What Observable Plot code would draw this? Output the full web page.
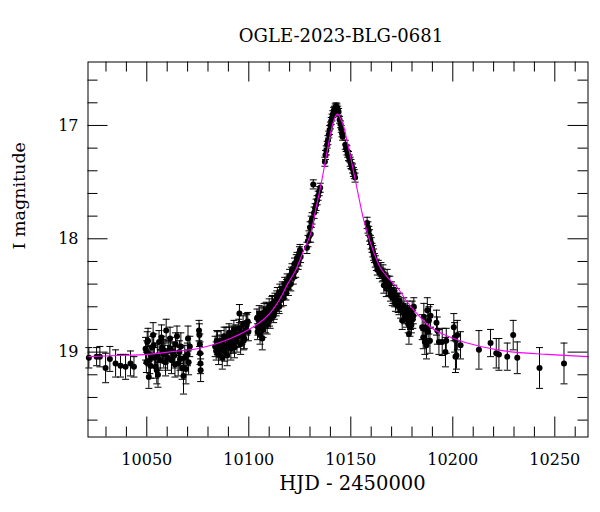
<!DOCTYPE html>
<html><head><meta charset="utf-8">
<script src="https://cdn.jsdelivr.net/npm/d3@7"></script>
<script src="https://cdn.jsdelivr.net/npm/@observablehq/plot@0.6"></script>
<style>body{margin:0;background:#fff} #chart svg{display:block}</style>
</head><body><div id="chart"></div>
<script>
const title = "OGLE-2023-BLG-0681";
const xLabel = "HJD - 2450000";
const yLabel = "I magnitude";
const xMajor = [10050, 10100, 10150, 10200, 10250];
const xMinor = [10030,10040,10060,10070,10080,10090,10110,10120,10130,10140,10160,10170,10180,10190,10210,10220,10230,10240,10260];
const yMajor = [17, 18, 19];
const yMinor = [16.6,16.8,17.2,17.4,17.6,17.8,18.2,18.4,18.6,18.8,19.2,19.4,19.6];

// Observations (HJD-2450000, I mag, error)
const hjd = [
 10021.6,10025.4,10027.0,10029.8,10031.9,10034.7,10037.1,10039.6,10042.0,10043.7,
 10049.4,10049.8,10050.2,10050.6,10051.0,10051.5,10052.0,10052.6,10053.1,10053.7,10054.3,10054.9,10055.5,10056.0,10056.6,10057.2,10057.8,10058.3,10058.9,10059.5,10060.2,10060.8,10061.4,10062.1,10062.8,10063.5,10064.1,10064.8,10065.4,10066.0,10066.7,10067.3,10068.0,10068.6,10069.2,10069.9,10070.5,10071.1,
 10075.6,10075.8,10076.0,10076.1,10076.3,10076.4,
 10083.5,10084.0,10084.6,10085.2,10085.8,10086.4,10087.0,10087.6,10088.2,10088.8,10089.4,10090.0,10090.6,10091.2,10091.8,10092.4,10093.0,10093.6,10094.2,10094.8,10095.4,10096.0,10096.6,10097.2,10097.8,10098.4,10099.0,10099.5,
 10104.0,10104.3,10104.7,10105.1,10105.5,10106.0,10106.5,10106.6,10107.0,10107.5,10108.0,10108.5,10109.0,10109.5,10110.0,10110.5,10111.0,10111.6,10112.2,10112.8,10113.4,10114.0,10114.6,10115.2,10115.8,10116.4,10117.0,10117.6,10118.2,10118.8,10119.4,10120.0,10120.6,10121.2,10121.8,10122.4,10123.0,10123.6,10124.2,10124.8,10125.4,
 10128.5,10129.0,10129.5,10130.0,10130.3,10130.6,10131.0,10131.6,10132.0,10132.5,10133.0,10133.5,10134.0,10134.5,10135.0,
 10137.3,10137.6,10138.0,10138.4,10138.8,10139.2,10139.6,10140.0,10140.4,10140.8,10141.2,10141.6,10142.0,10142.4,10142.8,10143.2,10143.6,10144.0,
 10144.5,10145.0,10145.3,10145.7,10146.0,
 10147.3,10147.7,10148.1,10148.5,10148.9,10149.3,10149.7,10150.1,10150.5,10150.9,10151.3,10151.7,10152.1,
 10158.0,10158.4,10158.8,10159.2,10159.6,10160.0,10160.4,10160.8,10161.2,10161.6,10162.0,10162.5,10163.0,10163.5,10164.0,
 10164.8,10165.4,10166.2,10166.6,10167.0,10167.8,10168.7,10169.1,10169.5,10170.3,10171.1,10171.5,10171.9,10172.7,10173.6,10174.0,10174.4,10175.2,10176.0,10176.8,10177.3,10177.7,10178.5,10179.0,10179.3,10179.7,10180.1,10180.6,10180.9,
 10185.0,10185.5,10185.8,10186.3,10186.6,10187.1,10187.5,10187.9,10188.3,10188.8,10189.1,10192.0,10192.4,10193.2,10194.8,10196.4,10196.8,10200.5,10200.9,10201.3,10201.8,10202.2,10203.8,
 10212.8,10218.5,10221.3,10222.6,10226.7,10229.6,10231.6,10242.5,10254.5
];
const imag = [
 19.05,19.04,19.04,19.14,19.06,19.10,19.12,19.13,19.10,19.13,
 18.97,19.09,18.91,18.90,19.22,19.07,19.03,18.96,18.85,19.05,19.13,19.16,19.20,18.91,19.07,18.87,18.99,19.02,19.01,18.81,19.05,18.99,18.88,19.07,19.00,19.03,18.93,18.86,19.10,19.00,18.95,19.14,19.21,19.05,19.15,19.02,19.09,18.95,
 18.81,18.85,18.93,19.01,19.10,19.16,
 18.95,18.99,18.92,19.02,18.97,18.90,19.05,18.94,18.99,18.88,19.03,18.93,18.87,18.97,18.85,18.92,18.96,18.84,18.90,18.86,18.66,18.93,18.83,18.76,18.88,18.81,18.76,18.73,
 18.70,18.82,18.76,18.66,18.85,18.74,18.69,18.88,18.80,18.65,18.72,18.63,18.76,18.68,18.60,18.71,18.64,18.57,18.68,18.55,18.62,18.50,18.58,18.47,18.54,18.44,18.52,18.40,18.48,18.37,18.43,18.33,18.40,18.27,18.34,18.22,18.28,18.17,18.22,18.12,18.16,
 18.08,18.02,17.98,17.90,17.96,17.85,17.82,17.52,17.77,17.73,17.70,17.66,17.62,17.58,17.55,
 17.32,17.26,17.22,17.17,17.13,17.08,17.04,17.00,16.96,16.93,16.90,16.87,16.86,16.84,16.83,16.84,16.86,16.88,
 16.95,16.99,17.03,17.07,17.10,
 17.17,17.20,17.22,17.25,17.27,17.29,17.32,17.34,17.36,17.38,17.41,17.43,17.46,
 17.86,17.90,17.93,17.97,18.01,18.04,18.08,18.11,18.14,18.17,18.20,18.23,18.27,18.24,18.30,
 18.27,18.32,18.41,18.36,18.37,18.34,18.44,18.40,18.49,18.52,18.47,18.53,18.57,18.54,18.60,18.55,18.63,18.72,18.59,18.66,18.70,18.62,18.84,18.78,18.72,18.76,18.63,18.68,18.60,
 18.78,18.87,18.69,18.91,18.78,18.94,18.63,18.82,18.72,18.90,18.68,18.74,18.81,18.91,18.91,19.00,18.90,18.78,18.87,19.04,19.03,18.85,18.94,
 18.98,18.92,19.01,19.02,19.04,18.85,19.05,19.14,19.10
];
const ierr = [
 0.09,0.08,0.09,0.13,0.11,0.12,0.10,0.11,0.11,0.09,
 0.10,0.09,0.09,0.11,0.10,0.12,0.09,0.10,0.11,0.09,0.10,0.12,0.11,0.10,0.09,0.11,0.10,0.12,0.09,0.10,0.11,0.09,0.10,0.12,0.09,0.11,0.10,0.09,0.11,0.10,0.12,0.10,0.16,0.11,0.13,0.10,0.11,0.09,
 0.09,0.10,0.09,0.10,0.09,0.10,
 0.09,0.08,0.10,0.09,0.08,0.09,0.10,0.08,0.09,0.10,0.09,0.08,0.09,0.10,0.08,0.09,0.09,0.08,0.10,0.09,0.08,0.09,0.10,0.08,0.09,0.08,0.09,0.08,
 0.08,0.07,0.08,0.07,0.08,0.07,0.08,0.10,0.07,0.08,0.07,0.07,0.08,0.07,0.07,0.08,0.07,0.07,0.06,0.07,0.06,0.07,0.06,0.07,0.06,0.06,0.07,0.06,0.06,0.06,0.07,0.06,0.06,0.05,0.06,0.05,0.06,0.05,0.05,0.05,0.05,
 0.05,0.05,0.05,0.05,0.07,0.05,0.05,0.04,0.05,0.04,0.05,0.04,0.04,0.04,0.04,
 0.04,0.04,0.04,0.03,0.04,0.03,0.04,0.03,0.03,0.03,0.03,0.03,0.03,0.03,0.03,0.03,0.03,0.03,
 0.03,0.03,0.03,0.03,0.03,
 0.04,0.03,0.04,0.03,0.04,0.03,0.04,0.04,0.03,0.04,0.04,0.04,0.04,
 0.05,0.05,0.04,0.05,0.04,0.05,0.04,0.05,0.05,0.04,0.05,0.05,0.05,0.05,0.05,
 0.06,0.06,0.07,0.06,0.06,0.07,0.06,0.07,0.06,0.07,0.06,0.07,0.07,0.06,0.07,0.07,0.07,0.08,0.07,0.07,0.08,0.07,0.09,0.08,0.08,0.07,0.08,0.07,0.08,
 0.11,0.10,0.12,0.11,0.10,0.12,0.11,0.10,0.12,0.11,0.10,0.11,0.12,0.11,0.12,0.13,0.11,0.12,0.13,0.14,0.12,0.13,0.12,
 0.17,0.12,0.13,0.14,0.12,0.13,0.14,0.18,0.18
];
// Additional epochs in the dense parts of the season
const hjd2 = [
 10050.0,10051.8,10053.4,10055.2,10057.5,10059.2,10061.7,10063.8,10066.3,10070.2,
 10084.3,10085.5,10086.7,10087.9,10089.1,10090.3,10091.5,10092.7,10093.9,10095.1,10096.3,10097.5,10098.7,10099.8,
 10104.5,10105.3,10106.2,10107.2,10108.2,10109.2,10110.2,10111.3,10112.5,10113.7,10114.9,10116.1,10117.3,10118.5,10119.7,10120.9,10122.1,10123.3,10124.5,10125.1,
 10165.8,10167.4,10168.3,10170.0,10170.7,10172.3,10173.2,10175.6,10176.4,10178.1,10178.8,10180.4
];
const imag2 = [
 19.00,19.12,18.94,19.03,18.96,19.09,18.97,19.11,19.06,18.88,
 18.90,18.93,18.98,18.86,18.95,18.83,18.91,18.80,18.87,18.79,18.84,18.90,18.74,18.82,
 18.78,18.72,18.79,18.67,18.75,18.64,18.70,18.58,18.65,18.53,18.60,18.48,18.46,18.42,18.39,18.31,18.30,18.20,18.19,18.10,
 18.30,18.44,18.39,18.45,18.50,18.50,18.58,18.65,18.68,18.75,18.66,18.71
];
const ierr2 = [
 0.10,0.11,0.10,0.11,0.10,0.12,0.10,0.11,0.10,0.11,
 0.09,0.08,0.09,0.08,0.09,0.08,0.09,0.08,0.09,0.08,0.09,0.08,0.08,0.08,
 0.07,0.08,0.07,0.07,0.08,0.07,0.07,0.07,0.06,0.07,0.06,0.06,0.07,0.06,0.06,0.06,0.05,0.06,0.05,0.05,
 0.07,0.07,0.06,0.07,0.07,0.06,0.07,0.08,0.07,0.08,0.07,0.08
];

// Model light curve
const modelT = [10021.2,10035,10050.2,10063,10074.7,10085,10091,10100,10107.4,10112,10115.6,10119,10122.9,10126.5,10130.3,10132.7,10135.2,10138.5,10140.3,10141.7,10142.8,10143.7,10144.7,10146.6,10148.2,10149.9,10153.2,10156.4,10159.7,10164.6,10168.5,10172.8,10177,10180.9,10185,10189.1,10195,10200.5,10207,10213.6,10222,10230,10246,10266.3];
const modelM = [19.04,19.03,19.02,18.995,18.97,18.92,18.88,18.80,18.71,18.62,18.52,18.40,18.28,18.12,17.956,17.75,17.54,17.22,17.05,16.956,16.91,16.90,16.93,17.015,17.14,17.28,17.57,17.84,18.04,18.26,18.35,18.43,18.54,18.63,18.71,18.78,18.84,18.88,18.92,18.95,18.98,19.00,19.02,19.04];

const obs = hjd.map((t, i) => ({t, m: imag[i], e: ierr[i]}))
  .concat(hjd2.map((t, i) => ({t, m: imag2[i], e: ierr2[i]})));
const model = modelT.map((t, i) => ({t, m: modelM[i]}));

const cap = {draw(ctx) { ctx.moveTo(-3.5, 0); ctx.lineTo(3.5, 0); }};
const FONT = "DejaVu Serif";
const fw = 500, fh = 375;

const chart = Plot.plot({
  width: 600, height: 512,
  marginLeft: 87.5, marginRight: 12.5, marginTop: 61.5, marginBottom: 75.5,
  style: {fontFamily: FONT, fontSize: "16px", background: "white", color: "black"},
  x: {domain: [10021.18, 10266.27], label: null},
  y: {domain: [19.749, 16.44], label: null},
  marks: [
    Plot.ruleX(obs, {x: "t", y1: d => d.m - d.e, y2: d => d.m + d.e, stroke: "black", strokeWidth: 1}),
    Plot.dot(obs, {x: "t", y: d => d.m - d.e, symbol: cap, stroke: "black", strokeWidth: 1, fill: "none"}),
    Plot.dot(obs, {x: "t", y: d => d.m + d.e, symbol: cap, stroke: "black", strokeWidth: 1, fill: "none"}),
    Plot.dot(obs, {x: "t", y: "m", r: 3, fill: "black", stroke: "none"}),
    Plot.line(model, {x: "t", y: "m", stroke: "#ff00ff", strokeWidth: 1.1, curve: "catmull-rom"}),
    Plot.frame({stroke: "black", strokeWidth: 1}),
    Plot.ruleX(xMajor, {x: d => d, insetBottom: fh - 20, stroke: "black"}),
    Plot.ruleX(xMajor, {x: d => d, insetTop: fh - 20, stroke: "black"}),
    Plot.ruleX(xMinor, {x: d => d, insetBottom: fh - 10, stroke: "black"}),
    Plot.ruleX(xMinor, {x: d => d, insetTop: fh - 10, stroke: "black"}),
    Plot.ruleY(yMajor, {y: d => d, insetRight: fw - 20, stroke: "black"}),
    Plot.ruleY(yMajor, {y: d => d, insetLeft: fw - 20, stroke: "black"}),
    Plot.ruleY(yMinor, {y: d => d, insetRight: fw - 10, stroke: "black"}),
    Plot.ruleY(yMinor, {y: d => d, insetLeft: fw - 10, stroke: "black"}),
    Plot.axisX({anchor: "bottom", ticks: xMajor, tickSize: 0, tickPadding: 16.5, tickFormat: d => String(d), fontSize: 16, label: null}),
    Plot.axisY({anchor: "left", ticks: yMajor, tickSize: 0, tickPadding: 9.5, tickFormat: d => String(d), fontSize: 16, label: null}),
    Plot.text([xLabel], {frameAnchor: "bottom", dx: 14.5, dy: 53, lineAnchor: "bottom", fontSize: 19.5, text: d => d}),
    Plot.text([yLabel], {frameAnchor: "left", dx: -63.5, rotate: -90, lineAnchor: "bottom", fontSize: 17.5, text: d => d}),
    Plot.text([title], {frameAnchor: "top", dx: 3, dy: -20, lineAnchor: "bottom", fontSize: 18, text: d => d})
  ]
});
document.getElementById("chart").appendChild(chart);
</script></body></html>
